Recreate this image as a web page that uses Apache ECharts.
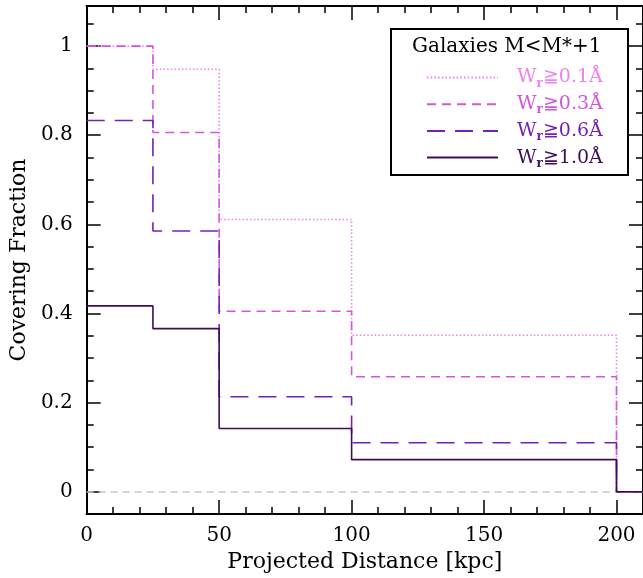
<!DOCTYPE html>
<html>
<head>
<meta charset="utf-8">
<script src="https://cdn.jsdelivr.net/npm/echarts@6/dist/echarts.min.js"></script>
<style>
html,body{margin:0;padding:0;background:#fff;}
#c{width:643px;height:578px;}
</style>
</head>
<body>
<div id="c"></div>
<script>
// ---- data ----
const binEdges = [0, 25, 50, 100, 200, 210];
const cfW01 = [1.0, 0.948, 0.611, 0.351, 0, 0];
const cfW03 = [1.0, 0.806, 0.405, 0.258, 0, 0];
const cfW06 = [0.833, 0.585, 0.213, 0.110, 0, 0];
const cfW10 = [0.417, 0.366, 0.142, 0.072, 0, 0];
const seriesNames = ['Wr≧0.1Å', 'Wr≧0.3Å', 'Wr≧0.6Å', 'Wr≧1.0Å'];
const xMajorTicks = [0, 50, 100, 150, 200];
const xMinorTicks = [10, 20, 30, 40, 60, 70, 80, 90, 110, 120, 130, 140, 160, 170, 180, 190, 210];
const yMajorTicks = [0, 0.2, 0.4, 0.6, 0.8, 1];
const yMinorTicks = [0.05, 0.1, 0.15, 0.25, 0.3, 0.35, 0.45, 0.5, 0.55, 0.65, 0.7, 0.75, 0.85, 0.9, 0.95, 1.05];
const legendTitle = 'Galaxies M<M*+1';
const xTitle = 'Projected Distance [kpc]';
const yTitle = 'Covering Fraction';

// ---- styles ----
const colors = ['#EE82EE', '#D257DE', '#7420B8', '#3E0E55'];
const dashes = [[1.5, 2.2], [9, 6], [18, 10], 'solid'];
const FONT = 'DejaVu Serif';
const XMIN = 0, XMAX = 210, YMIN = -0.05, YMAX = 1.09;

function pairs(vals) { return binEdges.map((x, i) => [x, vals[i]]); }
const allVals = [cfW01, cfW03, cfW06, cfW10];

function xAxisDef(pos, ticks, len, labels) {
  return {
    type: 'value', min: XMIN, max: XMAX, position: pos,
    axisLine: { show: true, onZero: false, lineStyle: { color: '#000', width: 2 } },
    axisTick: { show: true, inside: true, length: len, customValues: ticks, lineStyle: { color: '#000', width: 1.5 } },
    axisLabel: labels ? { show: true, customValues: ticks, fontFamily: FONT, fontSize: 20, color: '#000', margin: 12 } : { show: false },
    splitLine: { show: false }
  };
}
function yAxisDef(pos, ticks, len, labels) {
  return {
    type: 'value', min: YMIN, max: YMAX, position: pos,
    axisLine: { show: true, onZero: false, lineStyle: { color: '#000', width: 2 } },
    axisTick: { show: true, inside: true, length: len, customValues: ticks, lineStyle: { color: '#000', width: 1.5 } },
    axisLabel: labels ? { show: true, customValues: ticks, fontFamily: FONT, fontSize: 20, color: '#000', margin: 14 } : { show: false },
    splitLine: { show: false }
  };
}

const xAxes = [
  Object.assign(xAxisDef('bottom', xMajorTicks, 14, true), { name: xTitle, nameLocation: 'middle', nameGap: 37, nameTextStyle: { fontFamily: FONT, fontSize: 22, color: '#000' } }),
  xAxisDef('bottom', xMinorTicks, 7, false),
  xAxisDef('top', xMajorTicks, 14, false),
  xAxisDef('top', xMinorTicks, 7, false)
];
const yAxes = [
  Object.assign(yAxisDef('left', yMajorTicks, 14, true), { name: yTitle, nameLocation: 'middle', nameGap: 55, nameTextStyle: { fontFamily: FONT, fontSize: 22, color: '#000' } }),
  yAxisDef('left', yMinorTicks, 7, false),
  yAxisDef('right', yMajorTicks, 14, false),
  yAxisDef('right', yMinorTicks, 7, false)
];

const series = allVals.map((vals, i) => ({
  name: seriesNames[i],
  type: 'line',
  step: 'end',
  xAxisIndex: 0, yAxisIndex: 0,
  symbol: 'none',
  data: pairs(vals),
  lineStyle: { color: colors[i], width: 1.6, type: dashes[i] },
  itemStyle: { color: colors[i] },
  z: 3 + i,
  animation: false,
  markLine: i === 0 ? {
    silent: true, symbol: 'none', label: { show: false },
    lineStyle: { color: '#c8c8c8', type: [7, 5], width: 1.5 },
    data: [{ yAxis: 0 }], z: 1, animation: false
  } : undefined
}));

const rich = { sp: { width: 14, lineHeight: 20 } };
colors.forEach((c, i) => {
  rich['w' + i] = { color: c, fontFamily: FONT, fontSize: 19, lineHeight: 20 };
  rich['r' + i] = { color: c, fontFamily: FONT, fontSize: 12, fontWeight: 'bold', lineHeight: 8, padding: [12, 0, 0, 0] };
  rich['t' + i] = { color: c, fontFamily: FONT, fontSize: 19, lineHeight: 20 };
});

const chart = echarts.init(document.getElementById('c'), null, { renderer: 'canvas' });
chart.setOption({
  animation: false,
  backgroundColor: '#fff',
  textStyle: { fontFamily: FONT },
  grid: { left: 86, top: 6, width: 558, height: 508, containLabel: false },
  xAxis: xAxes,
  yAxis: yAxes,
  legend: {
    orient: 'vertical', left: 426, top: 65.5, padding: 0, z: 10,
    itemWidth: 71, itemHeight: 20, itemGap: 2.7,
    data: seriesNames.map(n => ({ name: n })),
    itemStyle: { color: 'rgba(0,0,0,0)', borderWidth: 0, opacity: 0 },
    formatter: function (name) {
      const i = seriesNames.indexOf(name);
      return '{sp|}{w' + i + '|W}{r' + i + '|r}{t' + i + '|' + name.slice(2) + '}';
    },
    textStyle: { rich: rich },
    selectedMode: false
  },
  graphic: [
    { type: 'rect', left: 390, top: 28, shape: { width: 237, height: 146 }, style: { fill: '#fff', stroke: '#000', lineWidth: 2 }, z: 1 },
    { type: 'text', left: 412, top: 37, style: { text: legendTitle, font: '20px "DejaVu Serif"', fill: '#000' }, z: 100 }
  ],
  series: series
});
</script>
</body>
</html>
